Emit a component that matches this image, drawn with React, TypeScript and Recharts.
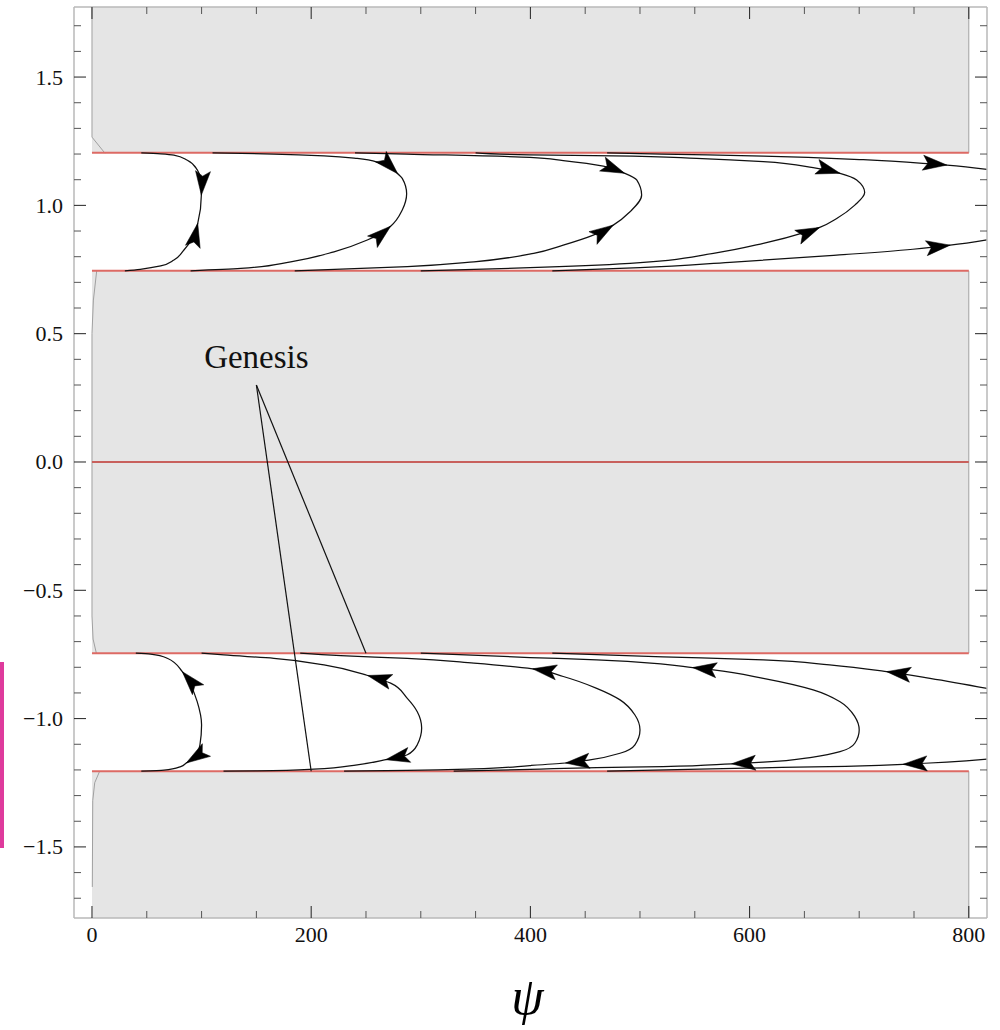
import React from 'react';
import { LineChart, Line, XAxis, YAxis, ReferenceArea, ReferenceLine, ReferenceDot, Label } from 'recharts';

type Pt = [number, number];
type Tip = [number, number, number];

// ---------- axes / ticks ----------
const XMIN = -16.4;
const XMAX = 816.6;
const YMIN = -1.777;
const YMAX = 1.773;

const X_TICKS = [0, 50, 100, 150, 200, 250, 300, 350, 400, 450, 500, 550, 600, 650, 700, 750, 800];
const X_LABELED = [0, 200, 400, 600, 800];
const Y_TICKS = [
  -1.7, -1.6, -1.5, -1.4, -1.3, -1.2, -1.1, -1.0, -0.9, -0.8, -0.7, -0.6, -0.5, -0.4, -0.3, -0.2, -0.1,
  0, 0.1, 0.2, 0.3, 0.4, 0.5, 0.6, 0.7, 0.8, 0.9, 1.0, 1.1, 1.2, 1.3, 1.4, 1.5, 1.6, 1.7,
];
const Y_LABELED = [-1.5, -1.0, -0.5, 0, 0.5, 1.0, 1.5];

// ---------- separatrices & shaded bands ----------
const SEPARATRICES = [1.205, 0.745, 0, -0.745, -1.205];
const PSI_START = 0;
const PSI_END = 800;
const BANDS: Pt[] = [
  [1.205, YMAX],
  [-0.745, 0.745],
  [YMIN, -1.205],
];
const edgeTop: Pt[] = [[0, 1.773], [0, 1.266], [11.9, 1.203]];
const edgeMid: Pt[] = [[4.3, 0.745], [1.3, 0.631], [0, 0.5], [0, -0.6], [1, -0.69], [4, -0.745]];
const edgeLow: Pt[] = [[7, -1.205], [2.5, -1.25], [0.7, -1.32], [0.3, -1.656]];
const edgeR1: Pt[] = [[800, 1.773], [800, 1.205]];
const edgeR2: Pt[] = [[800, 0.745], [800, -0.745]];
const edgeR3: Pt[] = [[800, -1.205], [800, -1.777]];

// ---------- trajectories, upper band ----------
const u1: Pt[] = [[30, 0.745], [44, 0.751], [62.7, 0.764], [74.8, 0.787], [83.9, 0.826], [91.5, 0.871], [96.5, 0.93], [99.8, 1.04], [99.2, 1.099], [96.1, 1.138], [87, 1.176], [74.8, 1.196], [62.7, 1.201], [45, 1.205]];
const u1Tips: Tip[] = [[96.5, 0.93, 1], [99.8, 1.04, -1]];
const u2: Pt[] = [[90, 0.745], [135.7, 0.754], [181.3, 0.78], [220.8, 0.819], [251.2, 0.865], [272.5, 0.919], [283.1, 0.982], [287.1, 1.045], [283.1, 1.105], [279, 1.123], [275.5, 1.138], [263.4, 1.164], [242, 1.183], [211.7, 1.193], [166, 1.2], [110, 1.205]];
const u2Tips: Tip[] = [[272.5, 0.919, 1], [279, 1.123, -1]];
const u3: Pt[] = [[185, 0.745], [287.7, 0.761], [348.5, 0.78], [403, 0.813], [430, 0.845], [457.4, 0.884], [475.6, 0.923], [490.9, 0.975], [501.5, 1.04], [497, 1.099], [486, 1.125], [466.5, 1.153], [430, 1.174], [399.6, 1.187], [287, 1.2], [240, 1.205]];
const u3Tips: Tip[] = [[475.6, 0.923, 1], [486, 1.125, -1]];
const u4: Pt[] = [[300, 0.745], [399.6, 0.757], [490.9, 0.774], [567, 0.813], [612.5, 0.852], [652, 0.897], [664, 0.914], [679.5, 0.949], [696, 1.001], [705, 1.05], [697.7, 1.099], [682.5, 1.125], [658, 1.147], [612.5, 1.17], [551.7, 1.183], [475.6, 1.193], [399.6, 1.197], [350, 1.205]];
const u4Tips: Tip[] = [[664, 0.914, 1], [682.5, 1.125, -1]];
const u5a: Pt[] = [[420, 0.745], [500, 0.757], [582, 0.778], [673, 0.804], [749, 0.829], [783, 0.845], [816.6, 0.866]];
const u5aTips: Tip[] = [[783, 0.845, 1]];
const u5b: Pt[] = [[816.6, 1.14], [780, 1.157], [764.6, 1.162], [703.7, 1.178], [612.5, 1.192], [520, 1.2], [470, 1.205]];
const u5bTips: Tip[] = [[780, 1.157, -1]];

// ---------- trajectories, lower band ----------
const l1: Pt[] = [[45, -1.205], [65.7, -1.201], [81, -1.187], [86, -1.173], [93, -1.154], [98.5, -1.102], [100, -1.025], [96, -0.934], [90, -0.869], [82.4, -0.817], [68.7, -0.765], [53.5, -0.749], [40, -0.745]];
const l1Tips: Tip[] = [[86, -1.173, -1], [82.4, -0.817, 1]];
const l2: Pt[] = [[120, -1.205], [150.8, -1.204], [202.6, -1.197], [242, -1.18], [268, -1.16], [287.7, -1.141], [296.8, -1.102], [300.8, -1.037], [296.8, -0.973], [287.7, -0.921], [272.5, -0.862], [251.5, -0.832], [211.7, -0.791], [166, -0.765], [120.4, -0.752], [100, -0.745]];
const l2Tips: Tip[] = [[268, -1.16, -1], [251.5, -0.832, 1]];
const l3: Pt[] = [[230, -1.205], [287.7, -1.202], [348.5, -1.196], [399.6, -1.183], [432, -1.173], [454.4, -1.161], [481.8, -1.135], [495.4, -1.102], [500, -1.044], [495.4, -0.986], [481.8, -0.927], [460.5, -0.882], [430, -0.836], [402, -0.806], [348.5, -0.784], [287.7, -0.765], [227, -0.755], [190, -0.745]];
const l3Tips: Tip[] = [[432, -1.173, -1], [402, -0.806, 1]];
const l4: Pt[] = [[330, -1.205], [400, -1.198], [460.5, -1.191], [521, -1.187], [583.6, -1.176], [612.5, -1.17], [658, -1.15], [682.5, -1.129], [696, -1.096], [700, -1.044], [696, -0.992], [682.5, -0.934], [658, -0.888], [612.5, -0.843], [567, -0.81], [548, -0.801], [521, -0.788], [460.5, -0.771], [399.6, -0.762], [300, -0.745]];
const l4Tips: Tip[] = [[583.6, -1.176, -1], [548, -0.801, 1]];
const l5a: Pt[] = [[816.6, -0.882], [764.6, -0.843], [725, -0.817], [673, -0.791], [612.5, -0.771], [521, -0.759], [420, -0.745]];
const l5aTips: Tip[] = [[725, -0.817, 1]];
const l5b: Pt[] = [[470, -1.205], [597, -1.193], [673, -1.187], [740, -1.178], [780, -1.17], [816.6, -1.158]];
const l5bTips: Tip[] = [[740, -1.178, -1]];

// ---------- annotation ----------
const GENESIS_LABEL: Pt = [150, 0.366];
const genesisLine1: Pt[] = [[150, 0.3], [250, -0.745]];
const genesisLine2: Pt[] = [[150, 0.3], [200, -1.205]];

// ---------- layout ----------
const W = 1000;
const H = 1030;
const LEFT_W = 74;
const RIGHT_W = 13;
const TOP_H = 7;
const BOTTOM_H = 112;
const PL = LEFT_W;
const PR = W - RIGHT_W;
const PT = TOP_H;
const PB = H - BOTTOM_H;
const KX = (PR - PL) / (XMAX - XMIN);
const KY = (PB - PT) / (YMAX - YMIN);

const SERIF = '"Liberation Serif", "Times New Roman", Times, serif';
const RED = '#dd6a64';
const FRAME = '#b8b8b8';
const SHADE = '#e5e5e5';
const MAJOR = 12;
const MINOR = 7;

const toData = (pts: Pt[]) => pts.map(([x, y]) => ({ x, y }));

const CURVES: { id: string; pts: Pt[]; tips: Tip[] }[] = [
  { id: 'u1', pts: u1, tips: u1Tips },
  { id: 'u2', pts: u2, tips: u2Tips },
  { id: 'u3', pts: u3, tips: u3Tips },
  { id: 'u4', pts: u4, tips: u4Tips },
  { id: 'u5a', pts: u5a, tips: u5aTips },
  { id: 'u5b', pts: u5b, tips: u5bTips },
  { id: 'l1', pts: l1, tips: l1Tips },
  { id: 'l2', pts: l2, tips: l2Tips },
  { id: 'l3', pts: l3, tips: l3Tips },
  { id: 'l4', pts: l4, tips: l4Tips },
  { id: 'l5a', pts: l5a, tips: l5aTips },
  { id: 'l5b', pts: l5b, tips: l5bTips },
];

function makeArrowDot(data: { x: number; y: number }[], tips: Tip[]) {
  return (props: any) => {
    const { cx, cy, index } = props;
    const p = data[index];
    const tip = p ? tips.find((t) => t[0] === p.x && t[1] === p.y) : undefined;
    if (!tip || cx == null || cy == null) return <g key={`d${index}`} />;
    const prev = data[Math.max(0, index - 1)];
    const next = data[Math.min(data.length - 1, index + 1)];
    const vx = (next.x - prev.x) * KX * tip[2];
    const vy = -(next.y - prev.y) * KY * tip[2];
    const ang = (Math.atan2(vy, vx) * 180) / Math.PI;
    return (
      <polygon
        key={`d${index}`}
        points="0,0 -24,-7.5 -19,0 -24,7.5"
        transform={`translate(${cx},${cy}) rotate(${ang})`}
        fill="#000"
        stroke="#000"
        strokeWidth={0.5}
        strokeLinejoin="round"
      />
    );
  };
}

const fmtY = (v: number) => (Math.abs(v) < 1e-9 ? '0.0' : v.toFixed(1).replace('-', '\u2212'));
const isLabeledY = (v: number) => Y_LABELED.some((l) => Math.abs(l - v) < 1e-6);
const isLabeledX = (v: number) => X_LABELED.includes(v);

const LeftTick = (props: any) => {
  const { y, payload } = props;
  const v = payload.value;
  const major = isLabeledY(v);
  return (
    <g>
      <line x1={PL} x2={PL + (major ? MAJOR : MINOR)} y1={y} y2={y} stroke={major ? '#222' : '#555'} strokeWidth={1} />
      {major && (
        <text x={PL - 11} y={y} dy="0.34em" textAnchor="end" fontFamily={SERIF} fontSize={22} fill="#111">
          {fmtY(v)}
        </text>
      )}
    </g>
  );
};

const RightTick = (props: any) => {
  const { y, payload } = props;
  const major = isLabeledY(payload.value);
  return <line x1={PR} x2={PR - (major ? MAJOR : MINOR)} y1={y} y2={y} stroke={major ? '#222' : '#555'} strokeWidth={1} />;
};

const BottomTick = (props: any) => {
  const { x, payload } = props;
  const v = payload.value;
  const major = isLabeledX(v);
  return (
    <g>
      <line x1={x} x2={x} y1={PB} y2={PB - (major ? MAJOR : MINOR)} stroke={major ? '#222' : '#555'} strokeWidth={1} />
      {major && (
        <text x={x} y={PB + 24} textAnchor="middle" fontFamily={SERIF} fontSize={22} fill="#111">
          {String(v)}
        </text>
      )}
    </g>
  );
};

const TopTick = (props: any) => {
  const { x, payload } = props;
  const major = isLabeledX(payload.value);
  return <line x1={x} x2={x} y1={PT} y2={PT + (major ? MAJOR : MINOR)} stroke={major ? '#222' : '#555'} strokeWidth={1} />;
};

const PsiLabel = (props: any) => {
  const vb = props.viewBox || {};
  const cx = vb.x != null && vb.width != null ? vb.x + vb.width / 2 : (PL + PR) / 2;
  return (
    <text x={cx - 3} y={PB + 96} textAnchor="middle" fontFamily={SERIF} fontStyle="italic" fontSize={52} fill="#000">
      ψ
    </text>
  );
};

const GenesisShape = (props: any) => (
  <text x={props.cx} y={props.cy} textAnchor="middle" fontFamily={SERIF} fontSize={33} fill="#111">
    Genesis
  </text>
);

export default function App() {
  const edgeLines = [edgeTop, edgeMid, edgeLow, edgeR1, edgeR2, edgeR3];
  return (
    <div style={{ position: 'absolute', left: 0, top: 0, width: W, height: H, background: '#fff' }}>
      <div style={{ position: 'absolute', left: 0, top: 662, width: 4, height: 186, background: '#de3a9c' }} />
      <LineChart width={W} height={H} margin={{ top: 0, right: 0, bottom: 0, left: 0 }}>
        {BANDS.map(([y1, y2], i) => (
          <ReferenceArea
            key={`band${i}`}
            xAxisId="b"
            yAxisId="l"
            x1={PSI_START}
            x2={PSI_END}
            y1={y1}
            y2={y2}
            fill={SHADE}
            fillOpacity={1}
            stroke="none"
            ifOverflow="visible"
            zIndex={-10}
          />
        ))}
        {edgeLines.map((e, i) => (
          <Line
            key={`edge${i}`}
            xAxisId="b"
            yAxisId="l"
            data={toData(e)}
            dataKey="y"
            type="linear"
            stroke="#a0a0a0"
            strokeWidth={1}
            dot={false}
            activeDot={false}
            isAnimationActive={false}
            zIndex={300}
          />
        ))}
        {SEPARATRICES.map((y, i) => (
          <ReferenceLine
            key={`sep${i}`}
            xAxisId="b"
            yAxisId="l"
            segment={[
              { x: PSI_START, y },
              { x: PSI_END, y },
            ]}
            stroke={y === 0 ? '#c8605c' : RED}
            strokeWidth={2}
            ifOverflow="visible"
            zIndex={350}
          />
        ))}
        {[genesisLine1, genesisLine2].map((g, i) => (
          <Line
            key={`gen${i}`}
            xAxisId="b"
            yAxisId="l"
            data={toData(g)}
            dataKey="y"
            type="linear"
            stroke="#111"
            strokeWidth={1.2}
            dot={false}
            activeDot={false}
            isAnimationActive={false}
          />
        ))}
        {CURVES.map((c) => {
          const data = toData(c.pts);
          return (
            <Line
              key={c.id}
              xAxisId="b"
              yAxisId="l"
              data={data}
              dataKey="y"
              type="monotoneY"
              stroke="#111"
              strokeWidth={1.25}
              dot={makeArrowDot(data, c.tips)}
              activeDot={false}
              isAnimationActive={false}
            />
          );
        })}
        <Line
          xAxisId="t"
          yAxisId="r"
          data={[
            { x: XMIN, y: YMIN },
            { x: XMAX, y: YMIN },
          ]}
          dataKey="y"
          stroke="#000"
          strokeOpacity={0}
          dot={false}
          activeDot={false}
          isAnimationActive={false}
        />
        <ReferenceDot
          xAxisId="b"
          yAxisId="l"
          x={GENESIS_LABEL[0]}
          y={GENESIS_LABEL[1]}
          r={0}
          ifOverflow="visible"
          shape={GenesisShape}
        />
        <XAxis
          xAxisId="b"
          dataKey="x"
          type="number"
          domain={[XMIN, XMAX]}
          allowDataOverflow
          ticks={X_TICKS}
          interval={0}
          tick={BottomTick}
          tickLine={false}
          tickSize={0}
          axisLine={{ stroke: FRAME, strokeWidth: 1.5 }}
          height={BOTTOM_H}
        >
          <Label content={PsiLabel} />
        </XAxis>
        <XAxis
          xAxisId="t"
          orientation="top"
          dataKey="x"
          type="number"
          domain={[XMIN, XMAX]}
          allowDataOverflow
          ticks={X_TICKS}
          interval={0}
          tick={TopTick}
          tickLine={false}
          tickSize={0}
          axisLine={{ stroke: FRAME, strokeWidth: 1.5 }}
          height={TOP_H}
        />
        <YAxis
          yAxisId="l"
          type="number"
          domain={[YMIN, YMAX]}
          allowDataOverflow
          ticks={Y_TICKS}
          interval={0}
          tick={LeftTick}
          tickLine={false}
          tickSize={0}
          axisLine={{ stroke: FRAME, strokeWidth: 1.5 }}
          width={LEFT_W}
        />
        <YAxis
          yAxisId="r"
          orientation="right"
          type="number"
          domain={[YMIN, YMAX]}
          allowDataOverflow
          ticks={Y_TICKS}
          interval={0}
          tick={RightTick}
          tickLine={false}
          tickSize={0}
          axisLine={{ stroke: FRAME, strokeWidth: 1.5 }}
          width={RIGHT_W}
        />
      </LineChart>
    </div>
  );
}
